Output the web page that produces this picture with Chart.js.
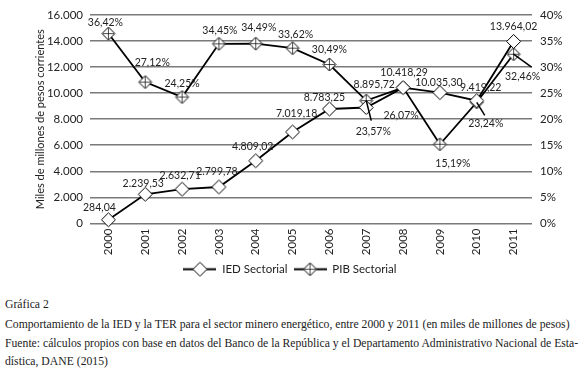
<!DOCTYPE html>
<html>
<head>
<meta charset="utf-8">
<script src="https://cdn.jsdelivr.net/npm/chart.js@4/dist/chart.umd.min.js"></script>
<style>
    html, body { margin: 0; padding: 0; background: #fff; }
    #page { position: relative; width: 580px; height: 369px; overflow: hidden; }
    #chart { position: absolute; left: 0; top: 0; }
    .cap { position: absolute; left: 5px; font-family: "Liberation Serif", "DejaVu Serif", serif; font-size: 11.7px; color: #222; white-space: nowrap; }
</style>
</head>
<body>
<div id="page">
    <canvas id="chart" width="580" height="285"></canvas>
    <div class="cap" style="top:298px">Gráfica 2</div>
    <div class="cap" style="top:318px">Comportamiento de la IED y la TER para el sector minero energético, entre 2000 y 2011 (en miles de millones de pesos)</div>
    <div class="cap" style="top:337px">Fuente: cálculos propios con base en datos del Banco de la República y el Departamento Administrativo Nacional de Esta-</div>
    <div class="cap" style="top:355px">dística, DANE (2015)</div>
</div>

<script>
// ======================
// Datos
// ======================
const years = ["2000", "2001", "2002", "2003", "2004", "2005", "2006", "2007", "2008", "2009", "2010", "2011"];
const iedSectorial = [284.04, 2239.53, 2632.71, 2799.78, 4809.02, 7019.18, 8783.25, 8895.72, 10418.29, 10035.30, 9419.22, 13964.02];
const pibSectorial = [36.42, 27.12, 24.25, 34.45, 34.49, 33.62, 30.49, 23.57, 26.07, 15.19, 23.24, 32.46];
const leftTicks = [0, 2000, 4000, 6000, 8000, 10000, 12000, 14000, 16000];
const rightTicks = [0, 5, 10, 15, 20, 25, 30, 35, 40];

// posicion de cada etiqueta respecto a su punto (solo estilo)
const iedLabelOffset = [[-9,-12],[-2,-11],[-2,-14],[-2,-15],[-3,-14],[4,-18],[-5,-11],[8,-23],[1,-15],[-1,-10],[4,-13],[0,-15]];
const pibLabelOffset = [[-3,-11],[7,-19],[0,-13],[1,-13],[3,-16],[3,-14],[0,-15],[7,31],[-2,28],[13,19],[9,21],[9,22]];
// lineas guia de algunas etiquetas del PIB
const pibLeader = { 7: [5, 20], 10: [8, 13], 11: [18, 13] };

const FONT = 'Lato, "Liberation Sans", sans-serif';

// formato 1.234,56
function fmtNum(v, dec) {
    const parts = v.toFixed(dec).split(".");
    parts[0] = parts[0].replace(/\B(?=(\d{3})+(?!\d))/g, ".");
    return parts.join(",");
}

// ======================
// Marcadores
// ======================
function diamondPath(ctx, cx, cy, r) {
    ctx.beginPath();
    ctx.moveTo(cx, cy - r);
    ctx.lineTo(cx + r, cy);
    ctx.lineTo(cx, cy + r);
    ctx.lineTo(cx - r, cy);
    ctx.closePath();
}

function makeMarker(withCross, lineW) {
    const w = lineW || 17, h = 17;
    const c = document.createElement("canvas");
    c.width = w; c.height = h;
    const g = c.getContext("2d");
    const cx = w / 2, cy = h / 2;
    const r = withCross ? 6.5 : 7;
    g.strokeStyle = "#000";
    if (lineW) {
        g.lineWidth = 1.8;
        g.beginPath(); g.moveTo(0, cy); g.lineTo(w, cy); g.stroke();
    }
    g.lineWidth = 1;
    diamondPath(g, cx, cy, r);
    g.fillStyle = "#fff";
    g.fill();
    g.stroke();
    if (withCross) {
        g.lineWidth = 0.7;
        g.beginPath();
        g.moveTo(cx, cy - r + 1); g.lineTo(cx, cy + r - 1);
        g.moveTo(cx - r + 1, cy); g.lineTo(cx + r - 1, cy);
        g.stroke();
    }
    return c;
}

const iedMarker = makeMarker(false);
const pibMarker = makeMarker(true);
const iedLegend = makeMarker(false, 33);
const pibLegend = makeMarker(true, 33);

// ======================
// Plugin: etiquetas de datos
// ======================
const labelPlugin = {
    id: "pointLabels",
    afterDatasetsDraw(chart) {
        const ctx = chart.ctx;
        ctx.save();
        ctx.font = "10.5px " + FONT;
        ctx.fillStyle = "#222";
        ctx.textAlign = "center";
        ctx.textBaseline = "middle";

        chart.getDatasetMeta(1).data.forEach((pt, i) => {
            const lead = pibLeader[i];
            if (lead) {
                ctx.strokeStyle = "#000";
                ctx.lineWidth = 1.5;
                ctx.beginPath();
                ctx.moveTo(pt.x, pt.y);
                ctx.lineTo(pt.x + lead[0], pt.y + lead[1]);
                ctx.stroke();
            }
            const o = pibLabelOffset[i];
            ctx.fillText(fmtNum(pibSectorial[i], 2) + "%", pt.x + o[0], pt.y + o[1]);
        });

        chart.getDatasetMeta(0).data.forEach((pt, i) => {
            const o = iedLabelOffset[i];
            ctx.fillText(fmtNum(iedSectorial[i], 2), pt.x + o[0], pt.y + o[1]);
        });
        ctx.restore();
    }
};

// ======================
// Grafica
// ======================
const tickFont = { family: FONT, size: 11.5 };

new Chart(document.getElementById("chart").getContext("2d"), {
    type: "line",
    data: {
        labels: years,
        datasets: [
            {
                label: "IED Sectorial",
                data: iedSectorial,
                yAxisID: "y",
                borderColor: "#000",
                borderWidth: 1.8,
                pointStyle: iedMarker,
                tension: 0,
                clip: false
            },
            {
                label: "PIB Sectorial",
                data: pibSectorial,
                yAxisID: "y1",
                borderColor: "#000",
                borderWidth: 1.8,
                pointStyle: pibMarker,
                tension: 0,
                clip: false
            }
        ]
    },
    options: {
        responsive: false,
        animation: false,
        devicePixelRatio: 1,
        layout: { padding: { top: 9, left: 0, right: 0, bottom: 0 } },
        plugins: {
            tooltip: { enabled: false },
            legend: {
                position: "bottom",
                labels: {
                    usePointStyle: true,
                    pointStyleWidth: 33,
                    padding: 6,
                    color: "#222",
                    font: { family: FONT, size: 11.5 },
                    generateLabels: () => [
                        { text: "IED Sectorial", pointStyle: iedLegend, datasetIndex: 0, lineWidth: 0, fontColor: "#222" },
                        { text: "PIB Sectorial", pointStyle: pibLegend, datasetIndex: 1, lineWidth: 0, fontColor: "#222" }
                    ]
                }
            }
        },
        scales: {
            x: {
                offset: true,
                grid: { display: false, drawTicks: false },
                border: { display: false },
                ticks: { minRotation: 90, maxRotation: 90, padding: 5, color: "#222", font: tickFont },
                afterFit: s => { s.height = 34; }
            },
            y: {
                position: "left",
                min: 0,
                max: 16000,
                afterBuildTicks: s => { s.ticks = leftTicks.map(v => ({ value: v })); },
                ticks: { padding: 7, color: "#222", font: tickFont, callback: v => fmtNum(v, 0) },
                grid: { color: "#7a7a7a", lineWidth: 1.6, drawTicks: false },
                border: { display: false },
                title: {
                    display: true,
                    text: "Miles de millones de pesos corrientes",
                    color: "#222",
                    font: { family: FONT, size: 11 },
                    padding: { top: 34, bottom: 0 }
                },
                afterFit: s => { s.width = 90; }
            },
            y1: {
                position: "right",
                min: 0,
                max: 40,
                afterBuildTicks: s => { s.ticks = rightTicks.map(v => ({ value: v })); },
                ticks: { padding: 8, color: "#222", font: tickFont, callback: v => v + "%" },
                grid: { drawOnChartArea: false, drawTicks: false },
                border: { display: false },
                afterFit: s => { s.width = 48; }
            }
        }
    },
    plugins: [labelPlugin]
});
</script>
</body>
</html>
